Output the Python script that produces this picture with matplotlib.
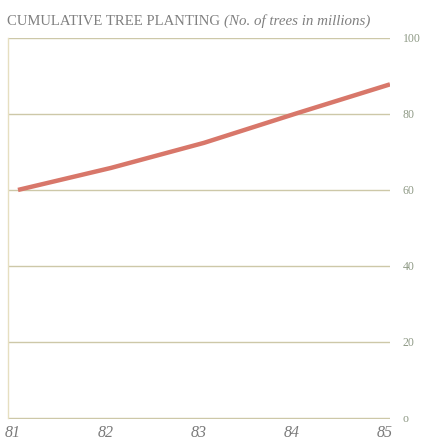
import matplotlib.pyplot as plt
from matplotlib.transforms import ScaledTranslation

# data (millions of trees, cumulative)
years = [81, 82, 83, 84, 85]
trees = [60, 65.8, 72.4, 80.2, 87.8]
yticks = [0, 20, 40, 60, 80, 100]
ytick_labels = ["o", "20", "40", "60", "80", "100"]

grid_col = "#cdc8a8"
label_col = "#8f9a86"

fig = plt.figure(figsize=(4.25, 4.4), dpi=100)
ax = fig.add_axes([8 / 425, 1 - 419 / 440, 382 / 425, 381 / 440])

ax.plot(years, trees, color="#d8776a", lw=3.2, solid_capstyle="butt", zorder=3)

ax.set_xlim(81 - 10 / 93, 85)
ax.set_ylim(-0.3, 100)

for y in yticks:
    ax.axhline(y, color=grid_col, lw=1.0, zorder=1)

for s in ["top", "right", "bottom"]:
    ax.spines[s].set_visible(False)
ax.spines["left"].set_color("#e6dfc0")
ax.spines["left"].set_linewidth(1.0)
ax.spines["left"].set_bounds(0, 100)

ax.yaxis.tick_right()
ax.set_yticks(yticks)
ax.set_yticklabels(ytick_labels, fontfamily="Liberation Serif", fontsize=8.5, color=label_col)
ax.tick_params(axis="y", length=0, pad=9)

ax.set_xticks(years)
ax.set_xticklabels([str(y) for y in years], fontfamily="Liberation Serif",
                   fontstyle="italic", fontsize=11.5, color="#7a7a7a")
ax.tick_params(axis="x", length=0, pad=4)
offset = ScaledTranslation(-5 / 100, 0, fig.dpi_scale_trans)
for lab in ax.get_xticklabels():
    lab.set_transform(lab.get_transform() + offset)

title = fig.text(7 / 425, 1 - 25 / 440, "CUMULATIVE TREE PLANTING", fontfamily="Liberation Serif",
                 fontsize=10.6, color="#808080", va="baseline", ha="left")
fig.canvas.draw()
ax.annotate("(No. of trees in millions)", xy=(1, 0), xycoords=title, xytext=(3, 0),
            textcoords="offset points", fontfamily="Liberation Serif", fontstyle="italic",
            fontsize=10.8, color="#808080", va="bottom", ha="left", annotation_clip=False)

fig.savefig("out.png", dpi=100, facecolor="white")
